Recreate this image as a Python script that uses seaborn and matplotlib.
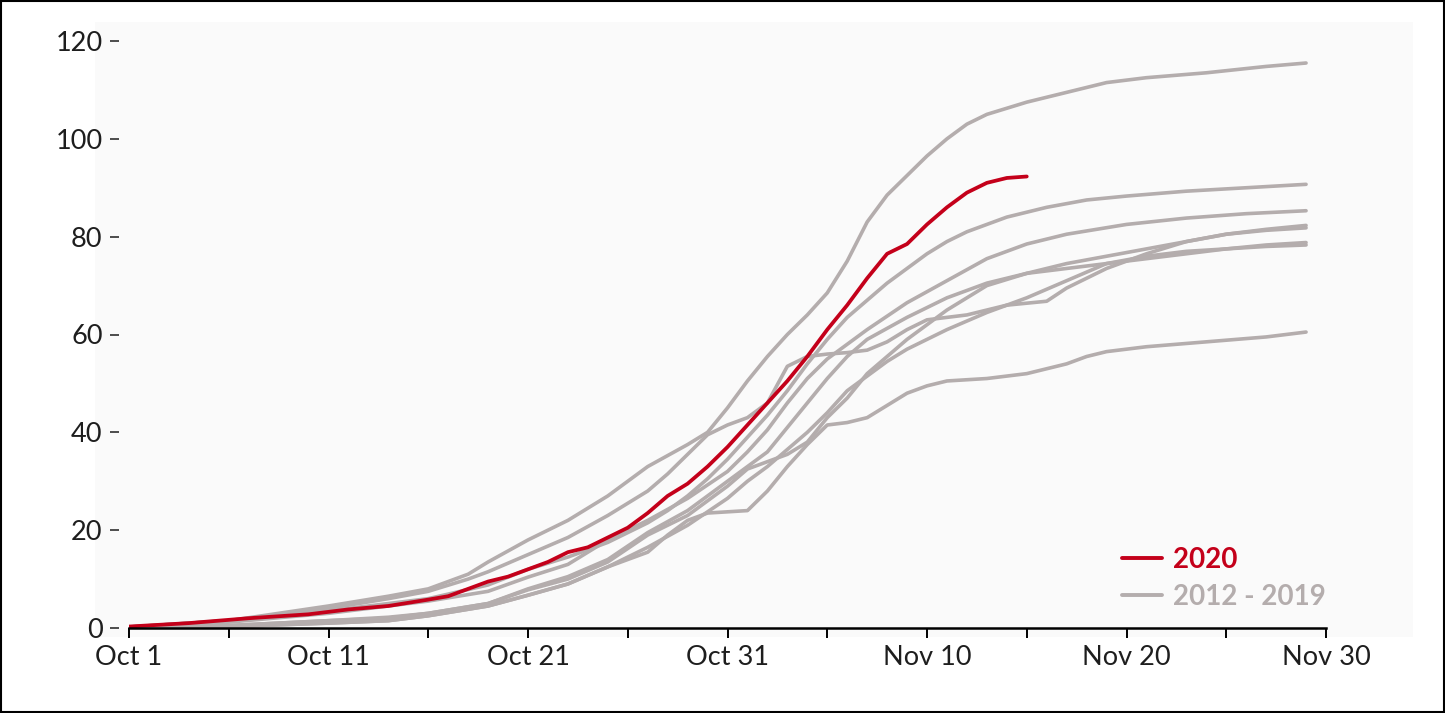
import matplotlib
matplotlib.use("Agg")
import matplotlib.pyplot as plt
import seaborn as sns
import pandas as pd
from matplotlib.lines import Line2D
from matplotlib.patches import Rectangle

# ---------------- data (day 0 = Oct 1) ----------------
x_tick_days = [0, 10, 20, 30, 40, 50, 60]
x_tick_labels = ["Oct 1", "Oct 11", "Oct 21", "Oct 31", "Nov 10", "Nov 20", "Nov 30"]
x_minor_days = [5, 15, 25, 35, 45, 55]
y_ticks = [0, 20, 40, 60, 80, 100, 120]

days_2020 = [0, 3, 6, 9, 11, 13, 15, 16, 17, 18, 19, 20, 21, 22, 23, 24, 25, 26, 27, 28,
             29, 30, 31, 32, 33, 34, 35, 36, 37, 38, 39, 40, 41, 42, 43, 44, 45]
vals_2020 = [0.3, 1, 2, 2.8, 3.8, 4.5, 5.8, 6.5, 8, 9.5, 10.5, 12, 13.5, 15.5, 16.5, 18.5, 20.5, 23.5, 27, 29.5,
             33, 37, 41.5, 46, 50.5, 55.5, 61, 66, 71.5, 76.5, 78.5, 82.5, 86, 89, 91, 92, 92.3]

days_2012 = [0, 5, 10, 13, 15, 18, 20, 22, 24, 26, 27, 28, 29, 31, 32, 33, 34, 35, 36, 37, 38, 39, 40, 41,
             43, 45, 47, 48, 49, 51, 54, 57, 59]
vals_2012 = [0.1, 0.3, 1, 1.5, 2.5, 4.5, 6.7, 9, 12.5, 15.5, 19, 22, 23.5, 24, 28, 33, 37.5, 41.5, 42, 43, 45.5, 48, 49.5, 50.5,
             51, 52, 54, 55.5, 56.5, 57.5, 58.5, 59.5, 60.5]

days_2013 = [0, 5, 10, 13, 15, 18, 20, 22, 24, 26, 28, 30, 31, 32, 33, 34, 35, 36, 37, 39, 41, 43, 45, 47,
             49, 51, 53, 55, 57, 59]
vals_2013 = [0.1, 0.5, 1.5, 2.2, 3, 5, 8, 10.5, 14, 19.5, 24, 30, 33, 36, 41, 46, 51, 55.5, 59, 63.5, 67.5, 70.5, 72.5, 74.5,
             76, 77.5, 79, 80.5, 81.5, 82.3]

days_2014 = [0, 5, 10, 13, 15, 17, 18, 20, 22, 24, 26, 28, 29, 30, 31, 32, 33, 34, 35, 36, 37, 38, 39, 40,
             41, 42, 43, 45, 47, 49, 51, 54, 57, 59]
vals_2014 = [0.2, 1.5, 4.5, 6.5, 8, 11, 13.5, 18, 22, 27, 33, 37.5, 40, 45, 50.5, 55.5, 60, 64, 68.5, 75, 83, 88.5, 92.5, 96.5,
             100, 103, 105, 107.5, 109.5, 111.5, 112.5, 113.5, 114.8, 115.5]

days_2015 = [0, 5, 10, 13, 15, 18, 20, 22, 24, 26, 28, 30, 31, 32, 33, 34, 35, 36, 37, 39, 41, 43, 45, 47,
             50, 53, 56, 59]
vals_2015 = [0.2, 1.2, 3, 4.5, 5.5, 7.5, 10.4, 13, 18, 22, 26.5, 32, 36, 40.5, 46, 51, 55, 58, 61, 66.5, 71, 75.5, 78.5, 80.5,
             82.5, 83.8, 84.7, 85.3]

days_2016 = [0, 5, 10, 13, 15, 18, 20, 22, 24, 26, 28, 30, 31, 32, 33, 34, 35, 36, 37, 39, 41, 43, 45, 47,
             49, 51, 53, 55, 57, 59]
vals_2016 = [0.1, 0.5, 1.5, 2, 3, 5, 7.8, 10, 13.5, 19, 23, 29, 32.5, 34, 35.5, 38, 43, 47, 52, 59, 65, 70, 72.5, 73.5,
             74.5, 75.5, 76.5, 77.5, 78.3, 78.8]

days_2017 = [0, 5, 10, 13, 15, 18, 20, 22, 24, 26, 28, 30, 31, 32, 33, 34, 35, 36, 37, 38, 39, 41, 43, 45,
             47, 49, 51, 53, 55, 57, 59]
vals_2017 = [0.1, 0.3, 1, 1.5, 2.5, 4.5, 6.7, 9, 12.5, 16.5, 21, 26.5, 30, 33, 36.5, 40, 44, 48.5, 51.5, 54.5, 57, 61, 64.5, 67.5,
             71, 74.5, 76, 77, 77.5, 78, 78.3]

days_2018 = [0, 5, 10, 13, 15, 17, 18, 20, 22, 24, 26, 27, 28, 29, 30, 31, 32, 33, 34, 35, 36, 37, 38, 39,
             40, 42, 44, 46, 47, 48, 49, 51, 53, 55, 57, 59]
vals_2018 = [0.2, 1.5, 4, 6, 7.5, 10, 11.5, 15, 18.5, 23, 28, 31.5, 35.5, 39.5, 41.5, 43, 46, 53.5, 55.5, 56, 56.3, 56.8, 58.5, 61,
             63, 64, 66, 66.8, 69.5, 71.5, 73.5, 76.5, 79, 80.5, 81.3, 81.8]

days_2019 = [0, 5, 10, 13, 15, 18, 20, 22, 24, 26, 27, 28, 29, 30, 31, 32, 33, 34, 35, 36, 37, 38, 39, 40,
             41, 42, 44, 46, 48, 50, 53, 56, 59]
vals_2019 = [0.2, 1.5, 3.5, 5, 6, 8.8, 12, 14.5, 17.5, 21.5, 24, 27, 30.5, 34.5, 39, 43.5, 48.5, 54, 59, 63.5, 67, 70.5, 73.5, 76.5,
             79, 81, 84, 86, 87.5, 88.3, 89.3, 90, 90.7]

past_years = {
    2012: (days_2012, vals_2012), 2013: (days_2013, vals_2013), 2014: (days_2014, vals_2014),
    2015: (days_2015, vals_2015), 2016: (days_2016, vals_2016), 2017: (days_2017, vals_2017),
    2018: (days_2018, vals_2018), 2019: (days_2019, vals_2019),
}

RED = "#c4001a"
GRAY = "#b4adad"
TXT = "#1e1e1e"

past_df = pd.concat(
    [pd.DataFrame({"day": d, "value": v, "year": y}) for y, (d, v) in past_years.items()],
    ignore_index=True,
)
cur_df = pd.DataFrame({"day": days_2020, "value": vals_2020})

# ---------------- figure ----------------
sns.set_theme(style="white")
plt.rcParams["font.family"] = ["Lato", "DejaVu Sans"]

W, H = 1445, 713
fig = plt.figure(figsize=(W / 100, H / 100), dpi=100)
fig.patches.append(Rectangle((95 / W, (H - 637) / H), (1413 - 95) / W, (637 - 22) / H,
                             transform=fig.transFigure, facecolor="#fafafa", edgecolor="none", zorder=-10))
fig.patches.append(Rectangle((0.0005, 0.001), 0.999, 0.998, transform=fig.transFigure,
                             fill=False, edgecolor="black", linewidth=1.5, zorder=10))

ax = fig.add_axes([129 / W, (H - 628) / H, 1197 / W, 587 / H])
ax.set_facecolor("none")
ax.patch.set_alpha(0)

sns.lineplot(data=past_df, x="day", y="value", units="year", estimator=None, sort=False,
             color=GRAY, linewidth=2.6, ax=ax, legend=False)
sns.lineplot(data=cur_df, x="day", y="value", color=RED, linewidth=2.7, ax=ax, legend=False, sort=False)

ax.set_xlim(0, 60)
ax.set_ylim(0, 120)
ax.set_xticks(x_tick_days)
ax.set_xticklabels(x_tick_labels)
ax.set_xticks(x_minor_days, minor=True)
ax.set_yticks(y_ticks)
ax.set_yticklabels([str(t) for t in y_ticks])
ax.set_xlabel("")
ax.set_ylabel("")

for s in ["top", "right", "left"]:
    ax.spines[s].set_visible(False)
ax.spines["left"].set_position(("outward", 7))
ax.spines["bottom"].set_color("black")
ax.spines["bottom"].set_linewidth(1.8)

ax.tick_params(axis="x", which="both", bottom=True, direction="out", length=7, width=1.4,
               color="black", pad=5, labelsize=19.5, labelcolor=TXT)
ax.tick_params(axis="y", which="both", left=True, direction="out", length=6.5, width=1.1,
               color=TXT, pad=5.5, labelsize=19.5, labelcolor=TXT)
ax.grid(False)

handles = [Line2D([], [], color=RED, linewidth=2.8), Line2D([], [], color=GRAY, linewidth=2.8)]
leg = ax.legend(handles, ["2020", "2012 - 2019"], loc="upper left",
                bbox_to_anchor=((1122 - 129) / 1197, (628 - 547) / 587),
                frameon=False, borderpad=0, borderaxespad=0, handlelength=1.45,
                handletextpad=0.38, labelspacing=0.4,
                prop={"weight": "bold", "size": 20})
for t, c in zip(leg.get_texts(), [RED, GRAY]):
    t.set_color(c)

fig.savefig("out.png", dpi=100)
